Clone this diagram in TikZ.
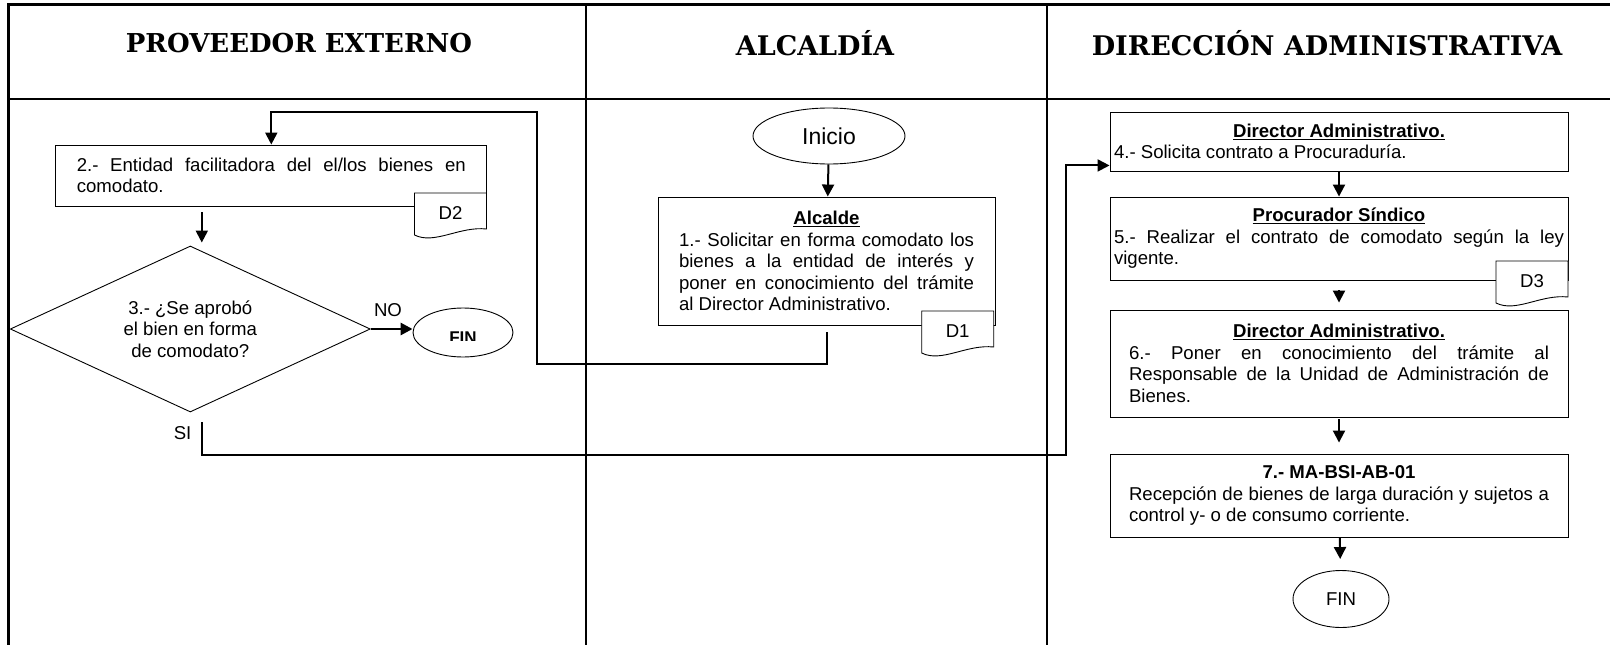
\documentclass[tikz,border=0pt]{standalone}
\usepackage{fontspec}
\setmainfont{Liberation Sans}
\newfontfamily\headfont{DejaVu Serif}
\usetikzlibrary{arrows.meta,calc,shapes.geometric,positioning}
\setlength{\parindent}{0pt}

\newcommand{\doctag}[4]{%
  \filldraw[fill=white,line width=0.9pt] (#2,#3) -- (#2+72,#3) -- (#2+72,#3+36)
    .. controls (#2+45,#3+33) and (#2+20,#3+52) .. (#2,#3+42) -- cycle;
  \node[txt] (#1) at (#2+36,#3+20) {#4};
}

\tikzset{
  lane/.style={line width=2pt},
  head/.style={font=\headfont\bfseries\fontsize{27}{30}\selectfont},
  txt/.style={font=\fontsize{18.6}{21.6}\selectfont},
  proc/.style={draw,line width=0.9pt,txt,align=justify,inner ysep=0pt},
  term/.style={draw,ellipse,line width=0.9pt,txt,inner sep=0pt},
  dec/.style={draw,diamond,aspect=2.17,line width=0.9pt,txt,align=center,inner sep=0pt},
  flow/.style={line width=2pt,-{Triangle[length=12pt,width=12pt]}},
  link/.style={line width=2pt}
}

\begin{document}
\begin{tikzpicture}[x=1pt,y=-1pt]
\useasboundingbox (0,0) rectangle (1610,645);
\draw[line width=3pt] (8.5,645) -- (8.5,4) -- (1610,4);
\draw[lane] (8.5,98.7) -- (1610,98.7);
\draw[lane] (586,4) -- (586,645);
\draw[lane] (1047,4) -- (1047,645);

\node[head,font=\headfont\bfseries\fontsize{26}{30}\selectfont] (hprov) at (299,43) {PROVEEDOR EXTERNO};
\node[head] (halc) at (815,43) {ALCALDÍA};
\node[head] (hdir) at (1327,43) {DIRECCIÓN ADMINISTRATIVA};

\node[proc,text width=389pt,inner xsep=21pt,minimum height=61pt] (b2) at (271.3,175.5)
  {2.- Entidad facilitadora del el/los bienes en\linebreak comodato.};
\doctag{d2}{414.5}{193}{D2}
\node[dec,minimum width=360pt,minimum height=166pt] (dia) at (190.3,329)
  {3.- ¿Se aprobó\\el bien en forma\\de comodato?};
\node[term,minimum width=100pt,minimum height=49pt] (fin1) at (463,332.5) {};
\begin{scope}
  \clip ($(fin1.west)+(0,-12)$) rectangle ($(fin1.east)+(0,7.5)$);
  \node[font=\bfseries\fontsize{17}{20}\selectfont] (fintxt) at ($(fin1.center)+(0,5.6)$) {FIN};
\end{scope}
\node[txt] (lno) at (388,310) {NO};
\node[txt] (lsi) at (182.6,433) {SI};

\node[term,minimum width=152pt,minimum height=56pt,font=\fontsize{23}{26}\selectfont] (ini) at (829,136) {Inicio};
\node[proc,text width=295pt,inner xsep=21pt,minimum height=128pt] (alc) at (826.5,261)
  {{\centering\bfseries\underline{Alcalde}\par}1.- Solicitar en forma comodato los\linebreak bienes a la entidad de interés y\linebreak poner en conocimiento del trámite\linebreak al Director Administrativo.};
\doctag{d1}{921.7}{311}{D1}

\node[proc,text width=450pt,inner xsep=4pt,minimum height=59pt] (b4) at (1339,141.5)
  {{\centering\bfseries\underline{Director Administrativo.}\par}4.- Solicita contrato a Procuraduría.};
\node[proc,text width=450pt,inner xsep=4pt,minimum height=83pt] (b5) at (1339,238.5)
  {{\centering\bfseries\underline{Procurador Síndico}\par}5.- Realizar el contrato de comodato según la ley\linebreak vigente.};
\doctag{d3}{1496}{261}{D3}
\node[proc,text width=420pt,inner xsep=19pt,minimum height=107pt] (b6) at (1339,363.5)
  {{\centering\bfseries\underline{Director Administrativo.}\par}6.- Poner en conocimiento del trámite al\linebreak Responsable de la Unidad de Administración de\linebreak Bienes.};
\node[proc,text width=420pt,inner xsep=19pt,minimum height=83pt] (b7) at (1339,495.5)
  {{\centering\bfseries 7.- MA-BSI-AB-01\par}Recepción de bienes de larga duración y sujetos a\linebreak control y- o de consumo corriente.};
\node[term,minimum width=96pt,minimum height=57pt] (fin2) at (1341,599) {FIN};

\coordinate (lp1) at (536.7,364);
\coordinate (lp2) at (536.7,112);
\coordinate (si0) at ($(dia.south)+(11.5,10)$);
\coordinate (si1) at (1066,455);
\coordinate (b4in) at ($(b4.south west)!0.1!(b4.north west)$);

\draw[flow] (ini) -- (alc);
\draw[flow,shorten <=7pt] (alc.south) |- (lp1) -- (lp2) -| (b2.north);
\draw[flow,shorten <=6pt,shorten >=3pt] (b2.south -| si0) -- (dia.north -| si0);
\draw[flow,line width=2.8pt] (dia.east) -- (dia.east -| fin1.west);
\draw[flow] (si0) |- (si1) |- (b4in);
\draw[flow] (b4) -- (b5);
\draw[flow,shorten <=10pt,shorten >=7pt] (b5) -- (b6);
\draw[flow,shorten <=2pt,shorten >=11pt] (b6) -- (b7);
\draw[flow,shorten >=11pt] (b7) -- (fin2);
\end{tikzpicture}
\end{document}
